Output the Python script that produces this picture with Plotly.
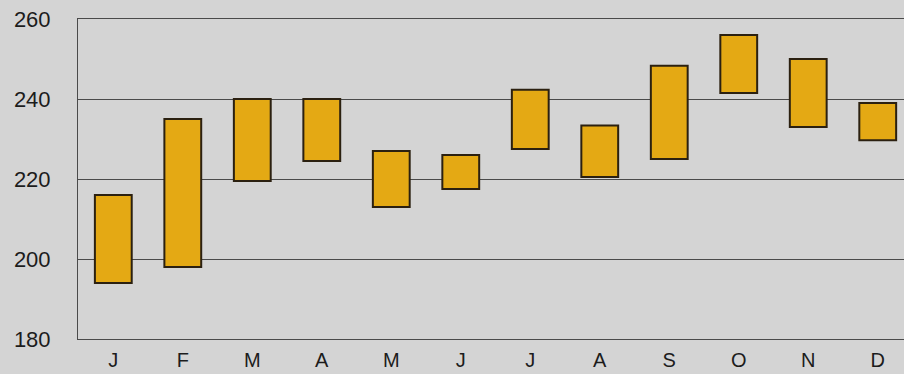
import plotly.graph_objects as go

# Monthly range chart: each box spans the month's low to high value
months = ["J", "F", "M", "A", "M", "J", "J", "A", "S", "O", "N", "D"]
lows = [194, 198, 219.5, 224.5, 213, 217.5, 227.5, 220.5, 225, 241.5, 233, 229.7]
highs = [216, 235, 240, 240, 227, 226, 242.3, 233.4, 248.3, 256, 250, 239]
y_ticks = [180, 200, 220, 240, 260]

positions = list(range(len(months)))
spans = [h - l for h, l in zip(highs, lows)]

fig = go.Figure(
    go.Bar(
        x=positions,
        y=spans,
        base=lows,
        width=0.53,
        marker=dict(color="#e4a914", line=dict(color="#2b2010", width=2)),
        hoverinfo="skip",
    )
)

fig.update_layout(
    width=904,
    height=374,
    margin=dict(l=78, r=0, t=19, b=35),
    paper_bgcolor="#d4d4d4",
    plot_bgcolor="#d4d4d4",
    showlegend=False,
    font=dict(family="Liberation Sans, Arial, sans-serif", size=22, color="#1c1c1c"),
)

fig.update_xaxes(
    range=[-0.508, 11.378],
    tickmode="array",
    tickvals=positions,
    ticktext=months,
    tickfont=dict(size=20),
    showgrid=False,
    zeroline=False,
    showline=True,
    mirror=True,
    linecolor="#4a4a4a",
    linewidth=1,
    ticks="",
    ticklabelstandoff=3,
    automargin=False,
)

fig.update_yaxes(
    range=[180, 260],
    tickmode="array",
    tickvals=y_ticks,
    showgrid=True,
    gridcolor="#4a4a4a",
    gridwidth=1,
    zeroline=False,
    showline=True,
    linecolor="#4a4a4a",
    linewidth=1,
    ticks="",
    ticklabelstandoff=22,
    automargin=False,
)

fig.write_html("out.html")
